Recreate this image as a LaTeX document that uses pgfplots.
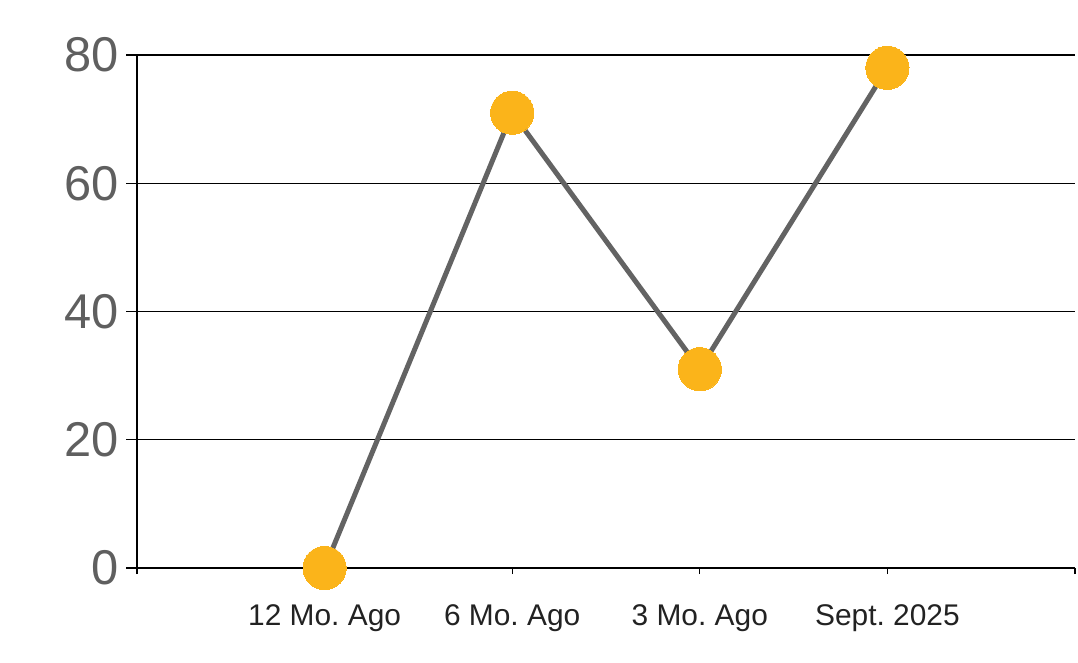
\documentclass[border=0pt]{standalone}
\usepackage{pgfplots}
\pgfplotsset{compat=1.18}
\usepackage{fontspec}
\setmainfont{Liberation Sans}
\frenchspacing
\definecolor{lineGray}{HTML}{636363}
\definecolor{mkYellow}{HTML}{FBB41A}
\definecolor{txtGray}{HTML}{5F5F5F}
\definecolor{txtDark}{HTML}{222222}
\begin{document}
\begin{tikzpicture}
\begin{axis}[
  scale only axis,
  width=469bp, height=256.5bp,
  xmin=-1, xmax=4, ymin=0, ymax=80,
  axis x line=bottom, axis y line=left,
  axis line style={black, line width=0.65bp, -},
  xtick={-1,0,1,2,3,4},
  xticklabels={,12 Mo. Ago,6 Mo. Ago,3 Mo. Ago,Sept. 2025,},
  ytick={0,20,40,60,80},
  tick align=outside,
  xtick style={black, line width=0.65bp, /pgfplots/major tick length=3bp},
  ytick style={black, line width=0.65bp, /pgfplots/major tick length=5.5bp},
  ymajorgrids,
  grid style={black, line width=0.65bp},
  yticklabel style={font=\fontsize{24.5}{24.5}\selectfont, text=txtGray, xshift=-1.5bp},
  xticklabel style={font=\fontsize{15}{15}\selectfont, text=txtDark, yshift=-10.5bp},
  /pgf/number format/assume math mode=true,
  clip=false,
]
\addplot[lineGray, line width=2.5bp, mark=*, mark size=10.8bp,
  mark options={fill=mkYellow, draw=mkYellow, line width=0pt}]
  coordinates {(0,0) (1,71) (2,31) (3,78)};
\coordinate (bl) at (rel axis cs:0,0);
\coordinate (tr) at (rel axis cs:1,1);
\end{axis}
\pgfresetboundingbox
\path[use as bounding box] ([shift={(-68.5bp,-47.5bp)}]bl) rectangle ([shift={(1.5bp,27.5bp)}]tr);
\end{tikzpicture}
\end{document}
